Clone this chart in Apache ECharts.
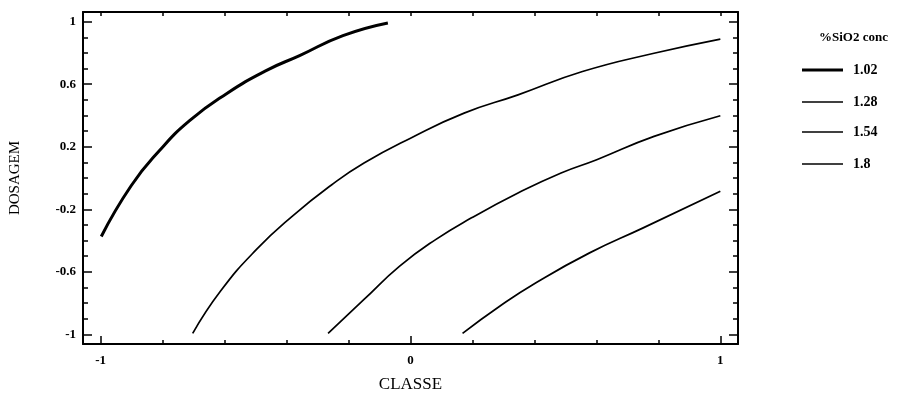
<!DOCTYPE html>
<html>
<head>
<meta charset="utf-8">
<script src="https://cdn.jsdelivr.net/npm/echarts@6/dist/echarts.min.js"></script>
<style>html,body{margin:0;padding:0;background:#fff}#c{width:899px;height:394px}</style>
</head>
<body>
<div id="c"></div>
<script>
// Contour levels (%SiO2 conc)
var levelNames = ['1.02', '1.28', '1.54', '1.8'];
// Curve 1.02
var c1X = [-0.998, -0.901, -0.81, -0.713, -0.595, -0.466, -0.358, -0.218, -0.073];
var c1Y = [-0.374, -0.048, 0.176, 0.367, 0.538, 0.687, 0.783, 0.911, 0.992];
// Curve 1.28
var c2X = [-0.703, -0.613, -0.497, -0.382, -0.254, -0.150, 0.0, 0.173, 0.347, 0.555, 0.786, 1.0];
var c2Y = [-0.994, -0.723, -0.457, -0.245, -0.043, 0.096, 0.255, 0.415, 0.532, 0.681, 0.798, 0.889];
// Curve 1.54
var c3X = [-0.266, -0.150, -0.035, 0.081, 0.197, 0.347, 0.486, 0.601, 0.786, 1.0];
var c3Y = [-0.994, -0.777, -0.564, -0.394, -0.255, -0.096, 0.032, 0.117, 0.266, 0.398];
// Curve 1.8
var c4X = [0.168, 0.289, 0.405, 0.578, 0.751, 1.0];
var c4Y = [-0.994, -0.819, -0.670, -0.479, -0.319, -0.085];
// Axis ticks / labels
var xTicks = [-1, -0.8, -0.6, -0.4, -0.2, 0, 0.2, 0.4, 0.6, 0.8, 1];
var xLabels = [-1, 0, 1];
var yTicks = [-1, -0.9, -0.8, -0.7, -0.6, -0.5, -0.4, -0.3, -0.2, -0.1, 0, 0.1, 0.2, 0.3, 0.4, 0.5, 0.6, 0.7, 0.8, 0.9, 1];
var yLabels = [-1, -0.6, -0.2, 0.2, 0.6, 1];

function pairs(xs, ys) { return xs.map(function (x, i) { return [x, ys[i]]; }); }

var SERIF = '"Liberation Serif", "DejaVu Serif", serif';
var XMIN = -1.057, XMAX = 1.057, YMIN = -1.062, YMAX = 1.062;
function fmt(v) { return String(Math.round(v * 10) / 10); }

function xAx(pos, ticks, len, showLine, labels, name) {
  return {
    type: 'value', position: pos, min: XMIN, max: XMAX,
    axisLine: { show: showLine, onZero: false, lineStyle: { color: '#000', width: 2 } },
    axisTick: { show: true, inside: true, length: len, customValues: ticks, lineStyle: { color: '#000', width: 1.5 } },
    axisLabel: labels ? { show: true, customValues: labels, color: '#000', fontFamily: SERIF, fontWeight: 'bold', fontSize: 13, margin: 10, formatter: fmt } : { show: false },
    splitLine: { show: false },
    name: name || '', nameLocation: 'middle', nameGap: 32,
    nameTextStyle: { color: '#000', fontFamily: SERIF, fontSize: 17 }
  };
}
function yAx(pos, ticks, len, showLine, labels, name) {
  return {
    type: 'value', position: pos, min: YMIN, max: YMAX,
    axisLine: { show: showLine, onZero: false, lineStyle: { color: '#000', width: 2 } },
    axisTick: { show: true, inside: true, length: len, customValues: ticks, lineStyle: { color: '#000', width: 1.5 } },
    axisLabel: labels ? { show: true, customValues: labels, color: '#000', fontFamily: SERIF, fontWeight: 'bold', fontSize: 13, margin: 7, formatter: fmt } : { show: false },
    splitLine: { show: false },
    name: name || '', nameLocation: 'middle', nameGap: 60, nameRotate: 90,
    nameTextStyle: { color: '#000', fontFamily: SERIF, fontSize: 15 }
  };
}

var curves = [pairs(c1X, c1Y), pairs(c2X, c2Y), pairs(c3X, c3Y), pairs(c4X, c4Y)];
var widths = [3, 1.7, 1.7, 1.7];
var legendRowCenters = [66, 98, 128, 160];

var legends = levelNames.map(function (n, i) {
  return {
    orient: 'vertical', left: 797, top: legendRowCenters[i] - 8,
    itemWidth: 41, itemHeight: widths[i], icon: 'rect', itemGap: 0,
    data: [n], selectedMode: false,
    textStyle: { color: '#000', fontFamily: SERIF, fontWeight: 'bold', fontSize: 14, padding: [0, 0, 0, 5] }
  };
});

var chart = echarts.init(document.getElementById('c'), null, { renderer: 'canvas' });
chart.setOption({
  animation: false,
  backgroundColor: '#fff',
  grid: { left: 83, right: 161, top: 12, bottom: 50, containLabel: false, outerBoundsMode: 'none' },
  title: {
    text: '%SiO2 conc', left: 814, top: 26,
    textStyle: { color: '#000', fontFamily: SERIF, fontWeight: 'bold', fontSize: 13 }
  },
  legend: legends,
  xAxis: [
    xAx('bottom', xTicks, 4, true, xLabels, 'CLASSE'),
    xAx('bottom', xLabels, 8, false, null),
    xAx('top', xTicks, 4, true, null)
  ],
  yAxis: [
    yAx('left', yTicks, 5, true, yLabels, 'DOSAGEM'),
    yAx('left', yLabels, 9, false, null),
    yAx('right', yTicks, 5, true, null),
    yAx('right', yLabels, 9, false, null)
  ],
  series: curves.map(function (d, i) {
    return {
      name: levelNames[i], type: 'line', data: d, xAxisIndex: 0, yAxisIndex: 0,
      smooth: true, symbol: 'none', showSymbol: false,
      lineStyle: { color: '#000', width: widths[i] },
      itemStyle: { color: '#000' }
    };
  })
});
</script>
</body>
</html>
